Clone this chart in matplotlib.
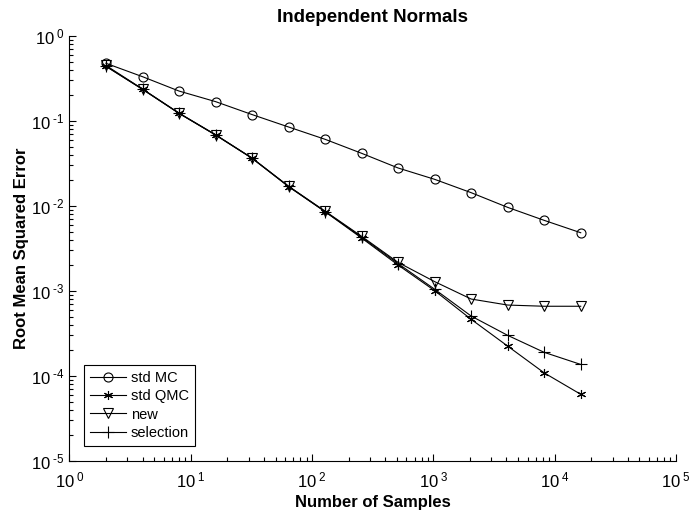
import numpy as np
import matplotlib
matplotlib.use('Agg')
import matplotlib.pyplot as plt
from matplotlib.ticker import FuncFormatter

plt.rcParams['font.family'] = ['Liberation Sans', 'DejaVu Sans']
plt.rcParams['mathtext.fontset'] = 'custom'
plt.rcParams['mathtext.rm'] = 'Liberation Sans'
plt.rcParams['mathtext.it'] = 'Liberation Sans:italic'
plt.rcParams['mathtext.bf'] = 'Liberation Sans:bold'

# number of samples
n_samples = [2, 4, 8, 16, 32, 64, 128, 256, 512, 1024, 2048, 4096, 8192, 16384]

# root mean squared error for each method
std_mc = [0.477, 0.332, 0.225, 0.169, 0.119, 0.085, 0.0609, 0.0417,
          0.028, 0.0206, 0.01435, 0.00964, 0.00678, 0.00485]
std_qmc = [0.44, 0.236, 0.123, 0.0685, 0.0364, 0.0169, 0.00857, 0.0042,
           0.00202, 0.00101, 0.000465, 0.000225, 0.000109, 6.1e-05]
new = [0.45, 0.238, 0.124, 0.069, 0.0367, 0.0171, 0.0087, 0.0044,
       0.00217, 0.00129, 0.000805, 0.000684, 0.000662, 0.000662]
selection = [0.44, 0.236, 0.123, 0.0685, 0.0365, 0.017, 0.0086, 0.0043,
             0.0021, 0.00105, 0.000508, 0.000301, 0.00019, 0.000137]


def pow10(v, pos):
    e = int(round(np.log10(v)))
    s = str(e).replace('-', r'\text{-}')
    return r'$\mathregular{10^{\ %s}}$' % s


fig = plt.figure(figsize=(6.9, 5.14), dpi=100)
ax = fig.add_axes([0.1007, 0.103, 0.879, 0.827])

kw = dict(color='black', lw=0.8, mfc='none', mec='black', mew=0.8)
ax.plot(n_samples, std_mc, marker='o', ms=6.5, label='std MC', **kw)
ax.plot(n_samples, std_qmc, marker=(6, 2, 0), ms=6.5, label='std QMC', **kw)
ax.plot(n_samples, new, marker='v', ms=7.5, label='new', **kw)
ax.plot(n_samples, selection, marker='+', ms=8, label='selection', **kw)

ax.set_xscale('log')
ax.set_yscale('log')
ax.set_xlim(1, 1e5)
ax.set_ylim(1e-5, 1)
ax.xaxis.set_major_formatter(FuncFormatter(pow10))
ax.yaxis.set_major_formatter(FuncFormatter(pow10))
ax.spines['top'].set_visible(False)
ax.spines['right'].set_visible(False)
ax.tick_params(which='both', direction='in', labelsize=12, width=0.8)
ax.tick_params(which='major', length=5)
ax.tick_params(which='minor', length=3)
ax.tick_params(axis='x', pad=7)

ax.set_title('Independent Normals', fontsize=13.5, fontweight='bold', pad=10)
ax.set_xlabel('Number of Samples', fontsize=12, fontweight='bold', labelpad=3)
ax.set_ylabel('Root Mean Squared Error', fontsize=12, fontweight='bold', labelpad=1)

leg = ax.legend(loc='lower left', bbox_to_anchor=(0.024, 0.036), borderaxespad=0,
                fontsize=10.5, fancybox=False, framealpha=1, edgecolor='black',
                handlelength=2.5, handletextpad=0.3, labelspacing=0.3,
                borderpad=0.4)
leg.get_frame().set_linewidth(0.8)

fig.savefig('out.png', dpi=100)
